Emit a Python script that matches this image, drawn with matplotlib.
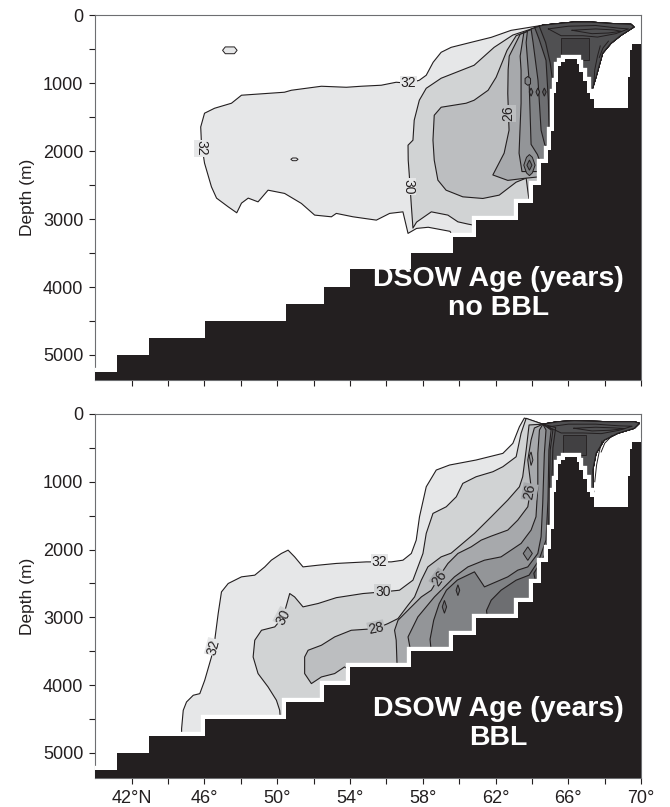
import numpy as np
import matplotlib.pyplot as plt

plt.rcParams['font.family'] = ['Liberation Sans', 'DejaVu Sans']

# --- bathymetry (same model grid in both panels) ---
topo_edges = [40.0, 41.22, 42.94, 46.02, 50.47, 52.55, 53.98, 57.37, 59.65, 60.93,
              63.22, 64.04, 64.5, 64.87, 65.05, 65.2, 65.3, 65.45, 65.6, 65.8,
              66.45, 66.6, 66.8, 67.0, 67.2, 67.4, 69.3, 69.4, 69.48, 70.0]
topo_depth = [5250, 5000, 4745, 4505, 4250, 3995, 3740, 3500, 3260, 3015,
              2770, 2500, 2180, 1985, 1700, 1150, 980, 740, 680, 640,
              710, 830, 960, 1150, 1230, 1370, 910, 515, 415]

# --- upper panel (no BBL): age contours, lat / depth ---
a_tongue_lat = [67.3, 67.52, 67.88, 68.34, 68.89, 69.6, 69.44, 68.16, 67.24, 66.31, 65.42, 64.6]
a_tongue_dep = [1100, 907, 559, 412, 294, 172, 132, 118, 99, 99, 122, 145]

a32_lat = [62.85, 61.76, 60.66, 59.56, 59.01, 58.57, 58.19, 57.81, 57.21, 56.54, 55.72, 54.62,
           53.8, 52.43, 50.78, 50.4, 48.04, 47.49, 46.56, 46.01, 45.8, 45.84, 46.01, 46.39,
           46.67, 47.31, 47.78, 48.04, 48.41, 48.95, 49.5, 50.41, 51.33, 52.06, 52.98, 53.25,
           54.17, 55.45, 56.18, 56.91, 57.19, 57.66, 58.3, 58.9, 59.5, 59.7]
a32_dep = [221, 324, 397, 471, 544, 691, 882, 956, 1000, 985, 1029, 1044,
           1059, 1044, 1103, 1132, 1176, 1294, 1368, 1441, 1643, 1882, 2176, 2525,
           2691, 2819, 2907, 2765, 2691, 2746, 2574, 2622, 2769, 2941, 2966, 2916,
           2966, 3015, 2916, 2893, 3210, 3137, 3120, 3150, 3180, 3300]
a30_lat = [62.95, 61.92, 60.82, 59.01, 58.19, 57.81, 57.53, 57.46, 57.19, 57.2, 57.26, 57.37,
           57.46, 57.66, 58.47, 59.38, 59.93, 60.48, 61.0]
a30_dep = [290, 471, 735, 926, 1074, 1250, 1544, 1838, 1912, 2132, 2353, 2794,
           3132, 3044, 2893, 2941, 3040, 3073, 3100]
a28_lat = [63.13, 62.63, 62.03, 61.59, 60.82, 60.38, 59.01, 58.63, 58.56, 58.63, 58.83, 59.28,
           60.2, 61.3, 62.2, 63.13, 63.68, 63.9]
a28_dep = [300, 515, 912, 1103, 1250, 1294, 1353, 1471, 1838, 2132, 2426, 2574,
           2672, 2696, 2647, 2456, 2397, 2850]
a26_lat = [63.35, 62.75, 62.69, 62.67, 62.74, 62.47, 61.85, 62.67, 63.57, 64.3, 64.6]
a26_dep = [280, 600, 800, 1151, 1691, 2029, 2350, 2430, 2400, 2380, 2400]
a24_lat = [63.55, 63.35, 63.4, 63.4, 63.29, 63.45, 64.11, 64.6]
a24_dep = [260, 600, 809, 1294, 2029, 2300, 2300, 2300]
a22_lat = [63.75, 63.68, 63.84, 63.95, 64.3, 64.55]
a22_dep = [230, 400, 956, 1900, 2050, 2230]
a20_lat = [63.95, 64.06, 64.33, 64.5, 64.7, 64.95]
a20_dep = [200, 400, 956, 1691, 1900, 2050]
a18_lat = [64.15, 64.39, 64.77, 64.9, 64.95, 65.0]
a18_dep = [180, 350, 662, 1250, 1800, 2050]
a16_lat = [64.4, 64.75, 65.0, 65.15, 65.25]
a16_dep = [160, 400, 700, 1000, 1250]
a_block_lat = [65.6, 67.13, 67.13, 65.6]
a_block_dep = [340, 340, 660, 660]

# --- lower panel (BBL) ---
b_tongue_lat = [67.38, 67.34, 67.52, 67.97, 68.71, 69.62, 69.9, 69.62, 68.16, 66.33, 65.42, 64.6]
b_tongue_dep = [1150, 827, 581, 384, 285, 211, 137, 114, 114, 99, 114, 150]

b32_lat = [63.58, 63.31, 62.95, 62.4, 60.93, 59.47, 58.74, 58.19, 57.82, 57.64, 57.37, 56.91,
           56.27, 54.9, 53.25, 52.25, 51.42, 50.96, 50.6, 50.23, 49.68, 49.32, 48.77, 48.04,
           47.31, 46.94, 46.76, 46.57, 46.39, 46.02, 45.75, 45.39, 45.02, 44.84, 44.75, 44.75]
b32_dep = [60, 188, 433, 581, 679, 753, 827, 1074, 1517, 1861, 2058, 2157,
           2182, 2182, 2205, 2231, 2256, 2108, 2009, 2058, 2157, 2256, 2378, 2403,
           2501, 2625, 2944, 3338, 3585, 3929, 4126, 4150, 4249, 4372, 4643, 4850]
b30_lat = [63.68, 63.4, 63.13, 62.4, 61.85, 60.93, 60.2, 59.84, 59.29, 58.56, 58.19, 58.01,
           57.46, 56.72, 55.81, 54.72, 53.25, 52.25, 51.42, 50.96, 50.69, 50.33, 49.87, 49.14,
           48.77, 48.68, 48.95, 49.5, 49.96, 50.14, 50.2]
b30_dep = [64, 285, 631, 778, 852, 926, 1024, 1222, 1369, 1467, 1762, 2058,
           2452, 2600, 2625, 2649, 2710, 2796, 2846, 2699, 2649, 2994, 3141, 3191,
           3338, 3585, 3830, 4027, 4224, 4372, 4600]
b28_lat = [63.84, 63.68, 63.49, 63.31, 62.67, 61.76, 60.84, 59.56, 59.01, 58.28, 57.92, 57.55,
           57.19, 56.64, 56.09, 55.44, 54.07, 53.16, 52.43, 51.7, 51.51, 51.51, 51.88, 52.43,
           53.16, 53.7, 54.1]
b28_dep = [162, 532, 926, 1074, 1270, 1517, 1762, 2053, 2108, 2256, 2452, 2699,
           2821, 3018, 3092, 3166, 3191, 3289, 3412, 3486, 3585, 3830, 3978, 3880,
           3830, 3732, 3800]
b26_lat = [64.13, 63.95, 63.77, 63.95, 63.77, 63.22, 62.67, 61.76, 61.21, 60.66, 59.93, 59.38,
           59.01, 58.47, 57.92, 57.37, 56.64, 56.45, 56.54, 56.6]
b26_dep = [207, 384, 679, 1074, 1369, 1566, 1713, 1802, 1861, 1960, 2058, 2206,
           2353, 2600, 2699, 2846, 3043, 3191, 3338, 3800]
b24_lat = [64.41, 64.32, 64.32, 64.22, 63.95, 63.4, 62.3, 61.39, 60.48, 59.74, 59.19, 58.64,
           57.73, 57.19, 57.3, 57.5]
b24_dep = [236, 581, 1074, 1517, 1713, 1910, 2108, 2157, 2256, 2403, 2551, 2699,
           2994, 3289, 3450, 3600]
b22_lat = [64.77, 64.68, 64.59, 64.5, 64.32, 63.77, 63.22, 62.67, 61.39, 60.84, 59.9, 59.3,
           58.9, 58.6, 58.4, 58.5]
b22_dep = [236, 581, 1319, 1812, 2058, 2256, 2304, 2403, 2551, 2329, 2450, 2600,
           2800, 3043, 3325, 3600]
b20_lat = [65.05, 64.93, 64.88, 64.77, 64.38, 63.84, 63.13, 62.3, 61.76, 61.5, 61.6]
b20_dep = [236, 532, 1270, 1861, 2157, 2378, 2452, 2600, 2747, 2900, 3100]
b18_lat = [65.15, 65.0, 64.95, 64.9, 64.75, 64.45, 64.1, 64.3]
b18_dep = [236, 532, 1270, 1800, 2050, 2200, 2350, 2600]
b16_lat = [65.3, 65.15, 65.1, 65.2, 65.25]
b16_dep = [200, 500, 900, 1100, 1300]
b_block_lat = [65.69, 66.97, 66.97, 65.69]
b_block_dep = [310, 310, 606, 606]

# dense contour lines inside the surface tongue (lat, depth)
a_tongue_lines = [
    ([64.9, 66.0, 67.5, 68.8, 69.3, 68.6, 67.6, 66.8, 65.6, 64.9], [200, 160, 150, 190, 200, 270, 320, 300, 300, 200]),
    ([66.2, 67.5, 68.5, 68.9, 68.2, 67.3, 66.2], [220, 200, 215, 235, 260, 270, 220]),
    ([67.75, 67.6, 67.45, 67.4], [450, 600, 800, 1000]),
    ([68.2, 67.9, 67.7], [380, 480, 620]),
]
b_tongue_lines = [
    ([64.9, 66.0, 67.5, 68.8, 69.5, 68.8, 67.8, 66.8, 65.6, 64.9], [190, 150, 150, 175, 180, 240, 290, 280, 280, 190]),
    ([66.3, 67.5, 68.5, 69.1, 68.3, 67.3, 66.3], [210, 195, 205, 215, 240, 250, 210]),
    ([67.85, 67.7, 67.55, 67.45], [400, 550, 750, 1000]),
    ([68.4, 68.0, 67.8], [320, 430, 560]),
]

# small closed contours: (lat, depth, fill colour)
a_loops = [
    ([47.0, 47.15, 47.65, 47.8, 47.65, 47.15], [515, 465, 465, 515, 565, 565], '#e6e7e8'),
    ([50.75, 50.85, 51.05, 51.15, 51.05, 50.85], [2120, 2100, 2100, 2120, 2140, 2140], '#e6e7e8'),
    ([63.62, 63.77, 63.92, 63.92, 63.77, 63.62], [930, 900, 930, 1010, 1030, 1000], '#808285'),
    ([63.85, 63.95, 64.05, 63.95], [1128, 1070, 1128, 1190], '#6d6e71'),
    ([64.22, 64.32, 64.42, 64.32], [1128, 1070, 1128, 1190], '#6d6e71'),
    ([64.58, 64.68, 64.78, 64.68], [1128, 1070, 1128, 1190], '#58595b'),
    ([63.55, 63.7, 63.86, 64.02, 64.17, 64.02, 63.86, 63.7], [2206, 2090, 2050, 2090, 2206, 2320, 2360, 2320], '#808285'),
    ([63.72, 63.86, 64.0, 63.86], [2206, 2130, 2206, 2280], '#6d6e71'),
]
b_loops = [
    ([59.07, 59.19, 59.31, 59.19], [2846, 2750, 2846, 2940], '#6d6e71'),
    ([59.83, 59.93, 60.03, 59.93], [2600, 2520, 2600, 2680], '#6d6e71'),
    ([63.52, 63.77, 64.02, 63.77], [2058, 1960, 2058, 2160], '#808285'),
    ([63.85, 63.95, 64.05, 63.95], [620, 560, 680, 760], '#939598'),
]

# contour labels: text, lat, depth, rotation, background
a_labels = [('32', 57.21, 1000, 0, '#e6e7e8'), ('32', 45.84, 1956, -90, '#e6e7e8'),
            ('30', 57.19, 2525, -90, '#e6e7e8'), ('26', 62.7, 1441, 90, '#bcbec0')]
b_labels = [('32', 55.61, 2182, 0, '#e6e7e8'), ('30', 55.81, 2625, 0, '#d1d3d4'),
            ('28', 55.44, 3166, 12, '#bcbec0'), ('26', 58.92, 2427, 55, '#a7a9ac'),
            ('32', 46.5, 3441, 75, '#e6e7e8'), ('30', 50.33, 2994, 62, '#d1d3d4'),
            ('26', 63.88, 1150, 80, '#a7a9ac')]

greys = ['#e6e7e8', '#d1d3d4', '#bcbec0', '#a7a9ac', '#939598', '#808285', '#6d6e71', '#58595b', '#505052']
ink = '#231f20'


def region(lat, dep, t_lat, t_dep):
    # contour, then hidden under the sea floor, then back over the surface tongue
    xs = list(lat) + [lat[-1], 70.5, 67.25] + list(t_lat)
    ys = list(dep) + [6000, 6000, 1300] + list(t_dep)
    return xs, ys


def panel(ax, levels, t_lat, t_dep, t_lines, block, loops, labels, title, ty):
    for i, (lat, dep) in enumerate(levels):
        xs, ys = region(lat, dep, t_lat, t_dep)
        ax.fill(xs, ys, facecolor=greys[i], edgecolor=ink, lw=0.8, joinstyle='round', zorder=2)
    ax.fill(block[0], block[1], facecolor='#414042', edgecolor=ink, lw=0.6, zorder=2)
    for lat, dep in t_lines:
        ax.plot(lat, dep, color=ink, lw=0.7, zorder=3)
    for lat, dep, c in loops:
        ax.fill(lat, dep, facecolor=c, edgecolor=ink, lw=0.7, zorder=3)
    ax.stairs(topo_depth, topo_edges, baseline=None, color='white', lw=6, zorder=4)
    ax.stairs(topo_depth, topo_edges, baseline=6000, fill=True, color=ink, zorder=5)
    for s, x, y, r, c in labels:
        ax.text(x, y, s, rotation=r, fontsize=10, ha='center', va='center', color=ink, zorder=3,
                rotation_mode='anchor',
                bbox=dict(boxstyle='square,pad=0.05', facecolor=c, edgecolor='none'))
    ax.text(0.739, ty, title, transform=ax.transAxes, ha='center', va='center',
            fontsize=20.5, fontweight='bold', color='white', linespacing=1.12, zorder=6)

    ax.set_xlim(40, 70)
    ax.set_ylim(5370, 0)
    ax.set_xticks(np.arange(42, 71, 2))
    ax.set_yticks(np.arange(0, 5001, 500))
    ax.set_yticklabels([str(v) if v % 1000 == 0 else '' for v in range(0, 5001, 500)])
    ax.set_ylabel('Depth (m)', fontsize=12.5, color=ink, labelpad=6)
    ax.tick_params(direction='out', length=4.5, width=0.8, color=ink, labelcolor=ink,
                   labelsize=13, pad=4)
    for sp in ax.spines.values():
        sp.set_color('#6d6e71')
        sp.set_linewidth(0.8)


fig = plt.figure(figsize=(6.7, 8.07), dpi=100)
ax1 = fig.add_axes([0.142, 0.529, 0.815, 0.452])
ax2 = fig.add_axes([0.142, 0.036, 0.815, 0.451])

panel(ax1,
      [(a32_lat, a32_dep), (a30_lat, a30_dep), (a28_lat, a28_dep), (a26_lat, a26_dep),
       (a24_lat, a24_dep), (a22_lat, a22_dep), (a20_lat, a20_dep), (a18_lat, a18_dep),
       (a16_lat, a16_dep)],
      a_tongue_lat, a_tongue_dep, a_tongue_lines, (a_block_lat, a_block_dep), a_loops, a_labels,
      'DSOW Age (years)\nno BBL', 0.237)
panel(ax2,
      [(b32_lat, b32_dep), (b30_lat, b30_dep), (b28_lat, b28_dep), (b26_lat, b26_dep),
       (b24_lat, b24_dep), (b22_lat, b22_dep), (b20_lat, b20_dep), (b18_lat, b18_dep),
       (b16_lat, b16_dep)],
      b_tongue_lat, b_tongue_dep, b_tongue_lines, (b_block_lat, b_block_dep), b_loops, b_labels,
      'DSOW Age (years)\nBBL', 0.15)

ax1.set_xticklabels([])
ax2.set_xticklabels(['42°N' if v == 42 else (f'{v}°' if v % 4 == 2 else '') for v in range(42, 71, 2)])

fig.savefig('out.png', dpi=100)
